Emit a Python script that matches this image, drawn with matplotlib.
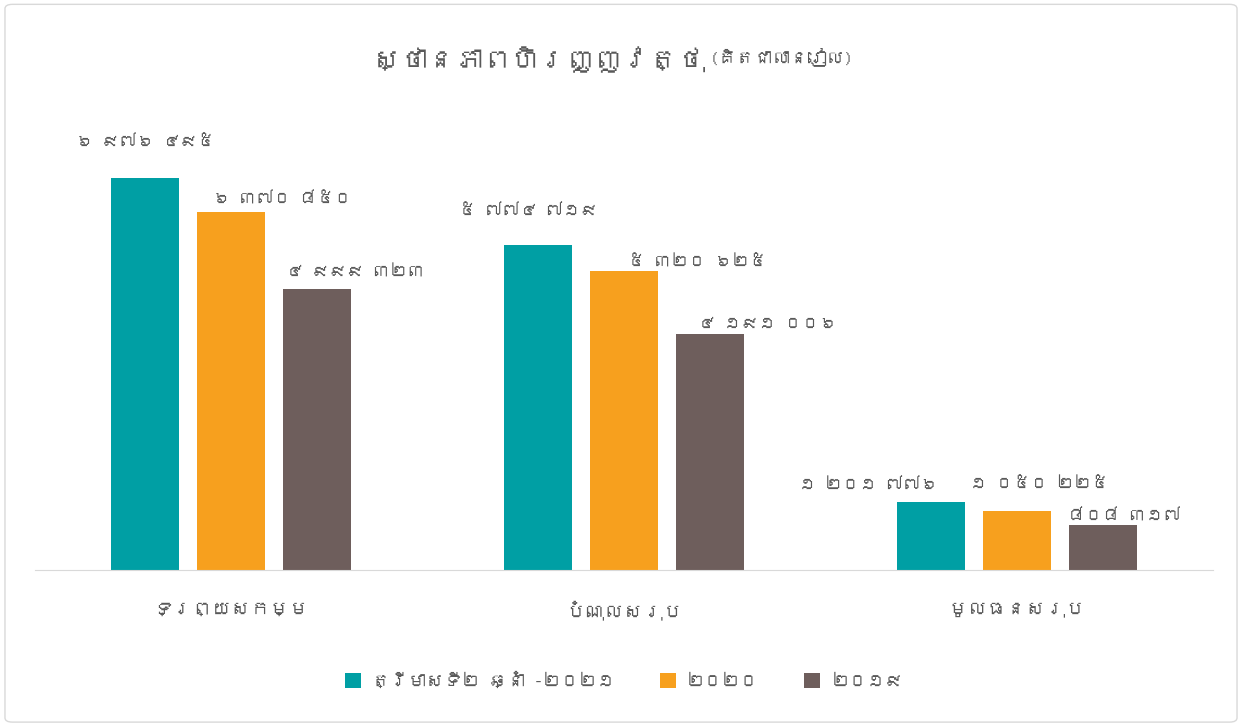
import matplotlib
matplotlib.use("Agg")
import matplotlib.pyplot as plt
from matplotlib import font_manager
from matplotlib.ft2font import FT2Font
from matplotlib.patches import FancyBboxPatch
import numpy as np

categories = ["ទ្រព្យសកម្ម", "បំណុលសរុប", "មូលធនសរុប"]
series_names = ["ត្រីមាសទី២ ឆ្នាំ -២០២១", "២០២០", "២០១៩"]
q2_2021 = [6976495, 5774719, 1201776]
y2020 = [6370850, 5320625, 1050225]
y2019 = [4999323, 4191006, 808317]
labels_q2_2021 = ["៦ ៩៧៦ ៤៩៥", "៥ ៧៧៤ ៧១៩", "១ ២០១ ៧៧៦"]
labels_2020 = ["៦ ៣៧០ ៨៥០", "៥ ៣២០ ៦២៥", "១ ០៥០ ២២៥"]
labels_2019 = ["៤ ៩៩៩ ៣២៣", "៤ ១៩១ ០០៦", "៨០៨ ៣១៧"]
title_main = "ស្ថានភាពហិរញ្ញវត្ថុ"
title_unit = "(គិតជាលានរៀល)"

# find a font with Khmer glyphs if one exists
khmer_font = None
for f in font_manager.fontManager.ttflist:
    try:
        cm = FT2Font(f.fname).get_charmap()
        if 0x1780 in cm and 0x17E0 in cm:
            khmer_font = f.name
            break
    except Exception:
        pass
fams = ([khmer_font] if khmer_font else []) + ["DejaVu Sans"]
plt.rcParams["font.family"] = fams

colors = ["#009FA4", "#F7A01E", "#6E5E5C"]
text_color = "#595959"

fig = plt.figure(figsize=(12.42, 7.25), dpi=100)
fig.patch.set_facecolor("white")
fig.patches.append(FancyBboxPatch((0.004, 0.004), 0.992, 0.99, boxstyle="round,pad=0,rounding_size=0.006",
                                  transform=fig.transFigure, facecolor="none", edgecolor="#D9D9D9", lw=1))

ax = fig.add_axes([35/1242, 1-570/725, 1178/1242, 450/725])
ax.set_xlim(-0.5, 2.5)
ax.set_ylim(0, 8e6)
x = np.arange(len(categories))
w = 0.173
step = 0.219
all_series = [q2_2021, y2020, y2019]
all_labels = [labels_q2_2021, labels_2020, labels_2019]
# label offsets in pixels (dx, dy above bar top) for each series/category
label_dx = [[0, -10, -62], [51, 73, 23], [38, 57, 22]]
label_dy = [[36, 35, 18], [13, 9, 27], [17, 10, 9]]
for i, (vals, labs) in enumerate(zip(all_series, all_labels)):
    xs = x + (i - 1) * step
    ax.bar(xs, vals, width=w, color=colors[i], label=series_names[i], zorder=2)
    for j in range(len(categories)):
        ax.annotate(labs[j], (xs[j], vals[j]), xytext=(label_dx[i][j]*0.72, label_dy[i][j]*0.72),
                    textcoords="offset points", ha="center", va="center",
                    fontsize=12.5, color=text_color)

for s in ["top", "right", "left"]:
    ax.spines[s].set_visible(False)
ax.spines["bottom"].set_color("#D9D9D9")
ax.set_yticks([])
ax.set_xticks(x)
ax.set_xticklabels(categories, fontsize=14, color=text_color)
ax.tick_params(axis="x", length=0, pad=22)

fig.text(706/1242, 1-60/725, title_main, fontsize=20, color=text_color, ha="right", va="center")
fig.text(710/1242, 1-57/725, title_unit, fontsize=13, color=text_color, ha="left", va="center")

ax.legend(loc="center", bbox_to_anchor=(0.5, 1-(680-120)/450), ncol=3, frameon=False,
          fontsize=13, labelcolor=text_color, handlelength=0.9, handleheight=0.9,
          columnspacing=2.5, handletextpad=0.6)

fig.savefig("out.png", dpi=100)
